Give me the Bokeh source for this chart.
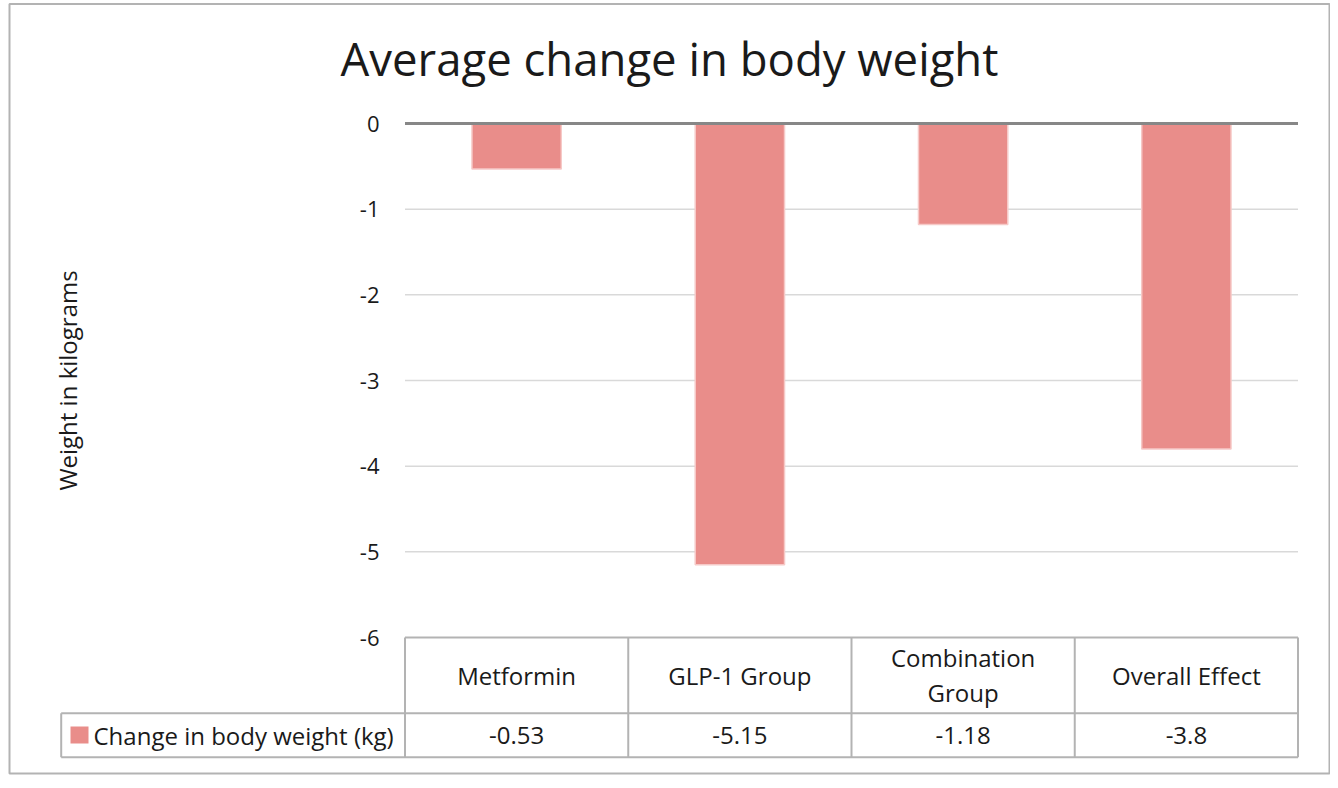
from bokeh.plotting import figure
from bokeh.models import Range1d
from bokeh.core.properties import value
from bokeh.embed import file_html
from bokeh.resources import INLINE

# ---- data ----
categories = ["Metformin", "GLP-1 Group", "Combination Group", "Overall Effect"]
header_labels = ["Metformin", "GLP-1 Group", "Combination\nGroup", "Overall Effect"]
series_name = "Change in body weight (kg)"
values = [-0.53, -5.15, -1.18, -3.8]
y_ticks = [0, -1, -2, -3, -4, -5, -6]
title_text = "Average change in body weight"
y_label = "Weight in kilograms"

# ---- layout (page pixels) ----
W, H = 1330, 780
OX, OY = 0, 0
X0_PX, XU = 404.5, 223.25          # page x of first category edge, px per category
Y0_PX, YU = 123.0, 514.0 / 6.0     # page y of value 0, px per kg


def dx(px):
    return (px - X0_PX) / XU


def dy(py):
    return -(py - Y0_PX) / YU


FONT = value("Open Sans")
TXT = "#1a1a1a"
BAR = "#E98D8A"
LINE = "#b3b3b3"
TABLE_FS = "24px"

p = figure(width=W, height=H, output_backend="svg", toolbar_location=None,
           x_range=Range1d(dx(OX), dx(OX + W)), y_range=Range1d(dy(OY + H), dy(OY)),
           x_axis_location=None, y_axis_location=None, min_border=0)
p.xgrid.visible = False
p.ygrid.visible = False
p.outline_line_color = None
p.background_fill_color = "white"
p.border_fill_color = "white"

n = len(categories)
centers = [i + 0.5 for i in range(n)]

# grid lines
grid_y = [t for t in y_ticks if t not in (0, y_ticks[-1])]
p.segment(x0=[0] * len(grid_y), x1=[n] * len(grid_y), y0=grid_y, y1=grid_y,
          line_color="#d9d9d9", line_width=1.5)

# bars
p.vbar(x=centers, top=[0] * n, bottom=values, width=0.4, fill_color=BAR,
       line_color="#F6C9C7", line_width=1.5)

# zero line
p.segment(x0=[0], x1=[n], y0=[0], y1=[0], line_color="#878787", line_width=3)

# y tick labels
p.text(x=[dx(379)] * len(y_ticks), y=y_ticks, text=[str(t) for t in y_ticks],
       text_align="right", text_baseline="middle", text_font=FONT,
       text_font_size="22px", text_color=TXT)

# y axis label
p.text(x=[dx(67)], y=[dy(380)], text=[y_label], angle=1.5708,
       text_align="center", text_baseline="middle", text_font=FONT,
       text_font_size="24px", text_color=TXT)

# title
p.text(x=[dx(669)], y=[dy(57)], text=[title_text], text_align="center",
       text_baseline="middle", text_font=FONT, text_font_size="45.5px",
       text_color=TXT)

# ---- data table ----
y_top = y_ticks[-1]
y_mid = dy(712.7)
y_bot = dy(756.7)
x_leg = dx(60.7)

p.segment(x0=[0, x_leg, x_leg], x1=[n, n, n], y0=[y_top, y_mid, y_bot],
          y1=[y_top, y_mid, y_bot], line_color=LINE, line_width=2)
p.segment(x0=list(range(n + 1)) + [x_leg], x1=list(range(n + 1)) + [x_leg],
          y0=[y_top] * (n + 1) + [y_mid], y1=[y_bot] * (n + 1) + [y_bot],
          line_color=LINE, line_width=2)

# header labels
p.text(x=centers, y=[(y_top + y_mid) / 2] * n, text=header_labels,
       text_align="center", text_baseline="middle", text_font=FONT,
       text_font_size=TABLE_FS, text_line_height=1.06, text_color=TXT)

# value labels
p.text(x=centers, y=[(y_mid + y_bot) / 2] * n, text=[str(v) for v in values],
       text_align="center", text_baseline="middle", text_font=FONT,
       text_font_size=TABLE_FS, text_color=TXT)

# legend key + name
p.quad(left=[dx(70)], right=[dx(88)], top=[dy(726)], bottom=[dy(743)],
       fill_color=BAR, line_color=None)
p.text(x=[dx(93)], y=[(y_mid + y_bot) / 2], text=[series_name],
       text_align="left", text_baseline="middle", text_font=FONT,
       text_font_size=TABLE_FS, text_color=TXT)

# outer chart border
p.quad(left=[dx(9)], right=[dx(1329)], top=[dy(3.5)], bottom=[dy(773)],
       fill_color=None, line_color=LINE, line_width=2)

open("out.html", "w").write(file_html(p, INLINE))
